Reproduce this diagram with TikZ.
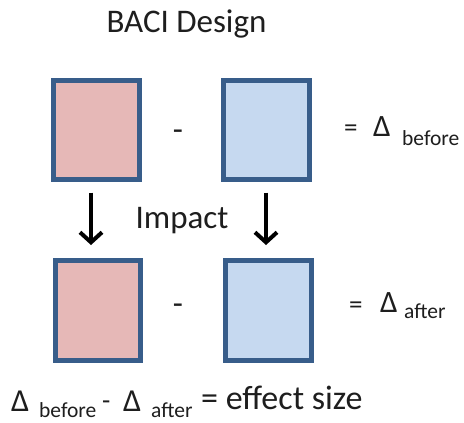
\documentclass[tikz,border=0pt]{standalone}
\usepackage{fontspec}
\setmainfont{Carlito}
\usetikzlibrary{arrows.meta,calc}
\definecolor{pinkfill}{RGB}{230,184,183}
\definecolor{bluefill}{RGB}{198,217,240}
\definecolor{boxline}{RGB}{56,93,138}
\definecolor{txt}{RGB}{30,30,30}
\tikzset{
  box/.style={draw=boxline,line width=5pt,inner sep=0pt,minimum width=86pt,minimum height=99pt},
  pinkbox/.style={box,fill=pinkfill},
  bluebox/.style={box,fill=bluefill},
  lbl/.style={inner sep=0pt,anchor=base west,text=txt},
  big/.style={lbl,font=\fontsize{33}{33}\selectfont},
  mid/.style={lbl,font=\fontsize{27}{27}\selectfont},
  delta/.style={lbl,font=\fontsize{31}{31}\selectfont},
  sub/.style={lbl,font=\fontsize{21.5}{21.5}\selectfont},
  arr/.style={line width=4pt,-{Straight Barb[length=10pt,width=22pt]}}
}
\begin{document}
\begin{tikzpicture}[x=1pt,y=-1pt]
\useasboundingbox[fill=white] (0,0) rectangle (464,423);
% title
\node[big,anchor=base] (title) at (186.5,32) {BACI Design};
% boxes
\node[pinkbox] (tl) at (96.5,130) {};
\node[bluebox] (tr) at (266,130) {};
\node[pinkbox,minimum width=85pt,minimum height=100pt] (bl) at (98,310.5) {};
\node[bluebox,minimum width=86pt,minimum height=100pt] (br) at (268.5,310.5) {};
% minus signs
\node[big,anchor=base] (m1) at (178,140) {-};
\node[big,anchor=base] (m2) at (178,314) {-};
% right labels
\node[mid] (eq1) at (344,136) {=};
\node[delta] (d1) at (373,136) {Δ};
\node[sub] (s1) at (402,145) {before};
\node[mid] (eq2) at (349,313) {=};
\node[delta] (d2) at (380,312) {Δ};
\node[sub] (s2) at (404,318) {after};
% impact
\node[big,anchor=base] (imp) at (182,228) {Impact};
\draw[arr] ($(tl.south)+(-5.5,10.5)$) -- ($(bl.north)+(-7,-13)$);
\draw[arr] ($(tr.south)+(0,10.5)$) -- ($(br.north)+(-2.5,-13)$);
% bottom equation
\node[delta,font=\fontsize{32}{32}\selectfont] (bd1) at (11,411) {Δ};
\node[sub] (bs1) at (39,417.5) {before};
\node[mid] (bm) at (102,409) {-};
\node[delta,font=\fontsize{32}{32}\selectfont] (bd2) at (123,411) {Δ};
\node[sub] (bs2) at (151,417.5) {after};
\node[big,font=\fontsize{34}{34}\selectfont] (eff) at (201,409) {= effect size};
\end{tikzpicture}
\end{document}
